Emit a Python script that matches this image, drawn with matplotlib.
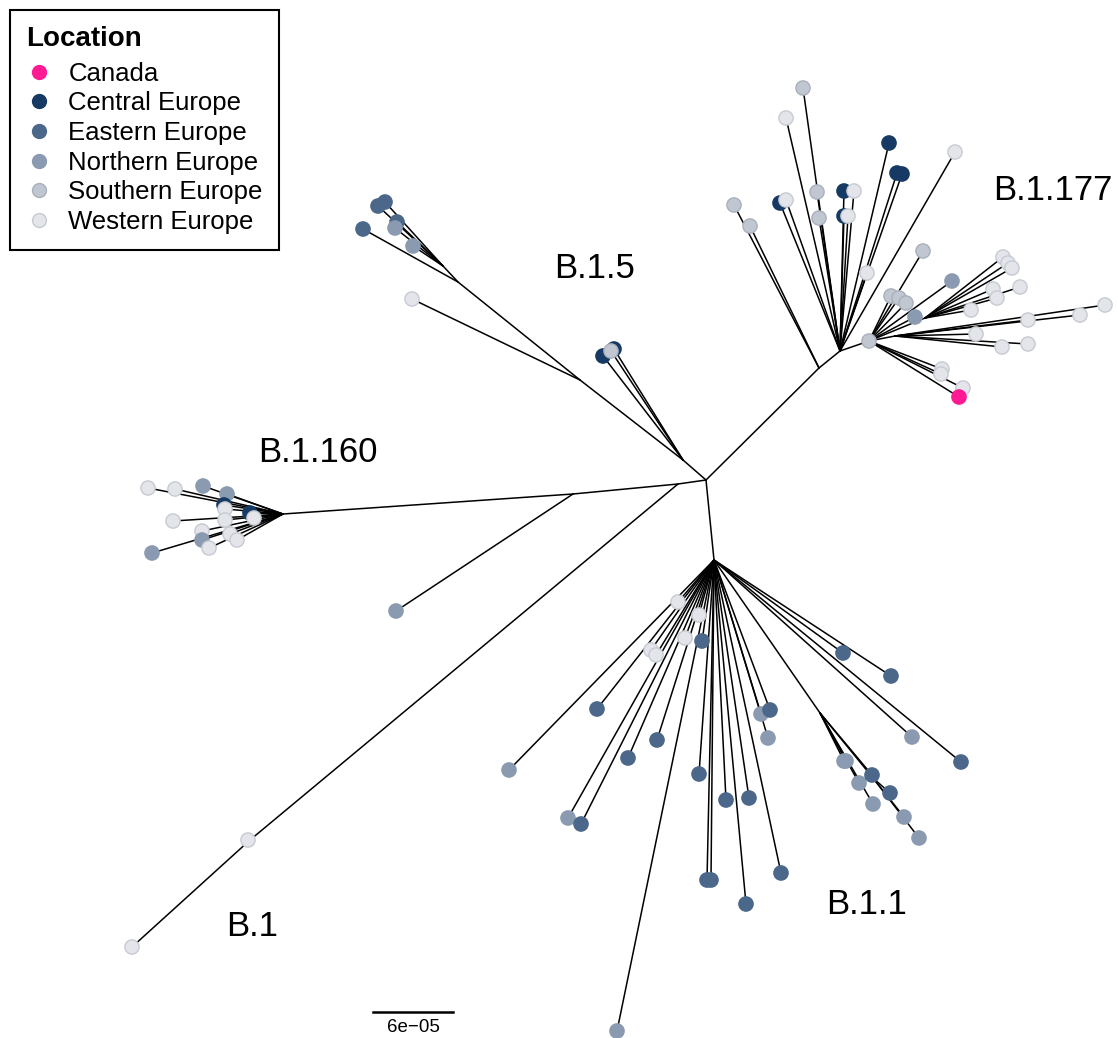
import matplotlib
matplotlib.use("Agg")
import matplotlib.pyplot as plt
from matplotlib.lines import Line2D

plt.rcParams['font.family'] = ['Liberation Sans', 'DejaVu Sans']

# ---- data: unrooted tree layout (layout units, y grows downward) ----
# internal nodes
node_names = ['c0', 'n177s', 'n177a', 'n177b', 'n177c', 'n177d',
              'n15', 'n15a', 'n15b', 'n15c',
              'nleft', 'n160s', 'n160', 'nb1',
              'n11', 'n11a', 'n11b']
node_x = [706, 819, 840, 869, 925, 895,
          683, 580, 458, 443,
          678, 573, 283, 250,
          714, 820, 873]
node_y = [480, 368, 351, 341, 318, 336,
          460, 380, 282, 266,
          484, 494, 514, 840,
          560, 713, 778]
node_parent = [None, 'c0', 'n177s', 'n177a', 'n177b', 'n177b',
               'c0', 'n15', 'n15a', 'n15b',
               'c0', 'nleft', 'n160s', 'nleft',
               'c0', 'n11', 'n11a']

# tips: x, y, parent node, sampling location
tip_x = [
    # B.1.177
    734, 750,
    803, 786, 817, 819, 780, 786, 844, 854, 844, 848, 889, 897, 902, 867, 955,
    869, 891, 899, 906, 923, 915, 952, 942, 941, 963, 959,
    1003, 1008, 1012, 993, 997, 1020, 971,
    1028, 1080, 1105, 976, 1002, 1028,
    # B.1.5
    603, 614, 611, 412, 363, 378, 385, 397, 395, 413,
    # B.1.160
    148, 175, 203, 227, 224, 225, 250, 254, 225, 173, 202, 202, 230, 237, 209, 152,
    396,
    # B.1
    248, 132,
    # B.1.1
    678, 699, 685, 651, 656, 702, 597, 509, 657, 628, 568, 581, 699, 726, 749,
    707, 711, 746, 781, 617, 761, 770, 768, 843, 891, 912, 961,
    844, 846, 859, 873, 872,
    890, 904, 919,
]
tip_y = [
    205, 226,
    88, 118, 192, 218, 203, 200, 191, 191, 216, 216, 143, 173, 174, 273, 152,
    341, 296, 298, 303, 251, 317, 281, 369, 374, 388, 397,
    257, 263, 268, 289, 298, 287, 310,
    320, 315, 305, 334, 347, 344,
    356, 349, 351, 299, 229, 206, 202, 222, 228, 246,
    488, 489, 486, 494, 505, 509, 513, 518, 520, 521, 531, 540, 534, 540, 548, 553,
    611,
    840, 947,
    602, 615, 638, 650, 655, 641, 709, 770, 740, 758, 818, 824, 774, 800, 798,
    880, 880, 904, 873, 1031, 714, 710, 738, 653, 676, 737, 762,
    761, 761, 783, 804, 775,
    793, 817, 838,
]
tip_parent = (
    ['n177s'] * 2 + ['n177a'] * 15 + ['n177b'] * 11 + ['n177c'] * 7 + ['n177d'] * 6
    + ['n15'] * 3 + ['n15a'] + ['n15b'] + ['n15c'] * 5
    + ['n160'] * 16 + ['n160s']
    + ['nb1'] * 2
    + ['n11'] * 27 + ['n11a'] * 5 + ['n11b'] * 3
)
tip_loc = [
    'SE', 'SE',
    'SE', 'WE', 'SE', 'SE', 'CE', 'WE', 'CE', 'WE', 'CE', 'WE', 'CE', 'CE', 'CE', 'WE', 'WE',
    'SE', 'SE', 'SE', 'SE', 'SE', 'NE', 'NE', 'WE', 'WE', 'WE', 'CA',
    'WE', 'WE', 'WE', 'WE', 'WE', 'WE', 'WE',
    'WE', 'WE', 'WE', 'WE', 'WE', 'WE',
    'CE', 'CE', 'SE', 'WE', 'EE', 'EE', 'EE', 'EE', 'NE', 'NE',
    'WE', 'WE', 'NE', 'NE', 'CE', 'WE', 'CE', 'WE', 'WE', 'WE', 'WE', 'NE', 'WE', 'WE', 'WE', 'NE',
    'NE',
    'WE', 'WE',
    'WE', 'WE', 'WE', 'WE', 'WE', 'EE', 'EE', 'NE', 'EE', 'EE', 'NE', 'EE', 'EE', 'EE', 'EE',
    'EE', 'EE', 'EE', 'EE', 'NE', 'NE', 'EE', 'NE', 'EE', 'EE', 'NE', 'EE',
    'NE', 'NE', 'NE', 'NE', 'EE',
    'EE', 'NE', 'NE',
]

loc_codes = ['CA', 'CE', 'EE', 'NE', 'SE', 'WE']
loc_labels = ['Canada', 'Central Europe', 'Eastern Europe', 'Northern Europe',
              'Southern Europe', 'Western Europe']
loc_colors = ['#ff1a94', '#173a64', '#4b6789', '#8a9bb1', '#c1c7d1', '#e3e5ea']
loc_edges = ['#ff1a94', '#173a64', '#4b6789', '#8a9bb1', '#a9b0bc', '#c6cad2']

clade_labels = ['B.1.177', 'B.1.5', 'B.1.160', 'B.1.1', 'B.1']
clade_x = [1053, 595, 318, 867, 252]
clade_y = [190, 268, 453, 905, 926]

scale_value = '6e\u221205'
scale_len = 80  # layout units for 6e-05 subs/site
scale_x0, scale_y0 = 373, 1012

# ---- drawing ----
fig = plt.figure(figsize=(11.18, 10.38), dpi=100)
ax = fig.add_axes([0, 0, 1, 1])
ax.set_xlim(0, 1118)
ax.set_ylim(1038, 0)
ax.axis('off')

pos = {n: (x, y) for n, x, y in zip(node_names, node_x, node_y)}
for n, p in zip(node_names, node_parent):
    if p is None:
        continue
    ax.plot([pos[p][0], pos[n][0]], [pos[p][1], pos[n][1]], color='black', lw=1.1,
            solid_capstyle='round', zorder=1)
for x, y, p in zip(tip_x, tip_y, tip_parent):
    ax.plot([pos[p][0], x], [pos[p][1], y], color='black', lw=1.1,
            solid_capstyle='round', zorder=1)

col = dict(zip(loc_codes, loc_colors))
edg = dict(zip(loc_codes, loc_edges))
ax.scatter(tip_x, tip_y, s=105, c=[col[l] for l in tip_loc],
           edgecolors=[edg[l] for l in tip_loc], linewidths=1.0, zorder=3)

for lab, x, y in zip(clade_labels, clade_x, clade_y):
    ax.text(x, y, lab, fontsize=25, ha='center', va='center')

ax.plot([scale_x0, scale_x0 + scale_len], [scale_y0, scale_y0], color='black', lw=1.8)
ax.text(scale_x0 + scale_len / 2, scale_y0 + 15, scale_value, fontsize=13.5,
        ha='center', va='center')

handles = [Line2D([], [], ls='none', marker='o', markersize=10, markerfacecolor=c,
                  markeredgecolor=e, markeredgewidth=1.0)
           for c, e in zip(loc_colors, loc_edges)]
leg = fig.legend(handles, loc_labels, title='Location', loc='upper left',
                 bbox_to_anchor=(10 / 1118, 1 - 10 / 1038), borderaxespad=0,
                 fontsize=18.5, title_fontproperties={'weight': 'bold', 'size': 20},
                 fancybox=False, edgecolor='black', framealpha=1,
                 labelspacing=0.22, handletextpad=0.65, handlelength=1.0,
                 borderpad=0.62)
leg._legend_box.align = 'left'
leg._legend_box.sep = 7
leg.get_frame().set_linewidth(1.5)

fig.savefig('out.png', dpi=100)
